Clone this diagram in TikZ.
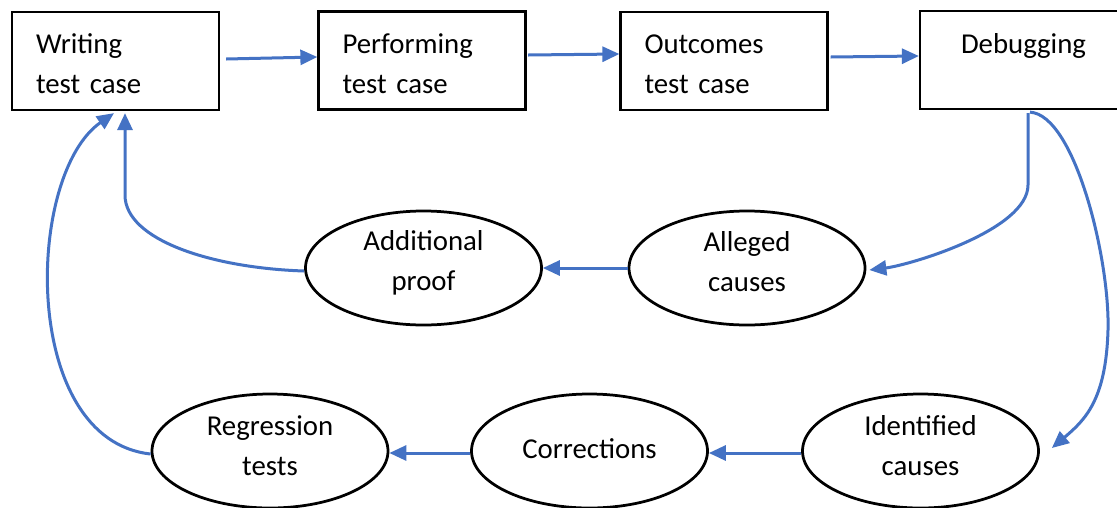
\documentclass[tikz,border=0pt]{standalone}
\usepackage{fontspec}
\setmainfont{Carlito}
\usetikzlibrary{arrows.meta,shapes.geometric}
\definecolor{flowblue}{HTML}{4472C4}
% invisible struts used to balance the lines vertically inside a shape
\newcommand{\topstrut}{\rule{0pt}{26pt}}
\newcommand{\lowstrut}[1]{\rule[-#1pt]{0pt}{#1pt}}
\tikzset{
  lbl/.style={font=\fontsize{28.8pt}{40pt}\selectfont, text=black},
  stage/.style={lbl, draw=black, line width=2.25pt, fill=white,
    minimum width=207pt, minimum height=98pt, inner sep=0pt,
    text width=159pt, align=left},
  stagec/.style={stage, align=center},
  cause/.style={lbl, ellipse, draw=black, line width=2.75pt, fill=white,
    minimum width=236pt, minimum height=114pt, inner sep=0pt, align=center},
  flow/.style={draw=flowblue, line width=3pt,
    -{Triangle[length=17pt,width=15pt]}}
}
\begin{document}
\begin{tikzpicture}[x=1pt,y=-1pt]
  \useasboundingbox (0,0) rectangle (1117,507);
  \clip (0,0) rectangle (1117,507);
  \fill[white] (0,0) rectangle (1117,507);

  % top row of process steps
  \node[stage]  (write) at (115.5,61)  {\topstrut Writing\\test case};
  \node[stage]  (perf)  at (422,60.5)  {\topstrut Performing\\test case};
  \node[stage]  (outc)  at (724,61)    {\topstrut Outcomes\\test case};
  \node[stagec] (debug) at (1023.5,60) {\topstrut Debugging\\\mbox{}};

  % causes and follow-up activities
  \node[cause] (addp)  at (423.5,268) {Additional\\proof\lowstrut{16}};
  \node[cause] (alleg) at (747,268)   {Alleged\\causes\lowstrut{13}};
  \node[cause] (regr)  at (270,451)   {Regression\\tests\lowstrut{11}};
  \node[cause] (corr)  at (589.5,451) {Corrections\lowstrut{4}};
  \node[cause] (ident) at (920.5,451) {Identified\\causes\lowstrut{12}};

  % main sequence
  \draw[flow] ([xshift=6pt,yshift=2pt]write.east) -- ([yshift=3.5pt]perf.west);
  \draw[flow] ([xshift=1.5pt,yshift=5.5pt]perf.east) -- ([yshift=7pt]outc.west);
  \draw[flow] ([xshift=2pt,yshift=4pt]outc.east) -- ([yshift=4pt]debug.west);

  % debugging branches
  \draw[flow] ([xshift=4.5pt,yshift=-3pt]debug.south) -- (1028,185)
    .. controls (1028,230) and (910,265) .. ([xshift=3pt,yshift=-2pt]alleg.east);
  \draw[flow] ([xshift=6.5pt,yshift=-2pt]debug.south)
    .. controls (1075,115) and (1110,260) .. (1108,330)
    .. controls (1106,400) and (1085,420) .. ([xshift=12pt,yshift=3pt]ident.east);

  % middle row back to the start
  \draw[flow] (alleg.west) -- (addp.east);
  \draw[flow] ([yshift=-3pt]addp.west)
    .. controls (212,268) and (125,240) .. (125,195)
    -- ([xshift=9.5pt,yshift=-2pt]write.south);

  % bottom row back to the start
  \draw[flow] ([yshift=-2pt]ident.west) -- ([yshift=-2pt]corr.east);
  \draw[flow] ([yshift=-2pt]corr.west) -- ([yshift=-2pt]regr.east);
  \draw[flow] ([yshift=-3pt]regr.west)
    .. controls (20,440) and (25,175) .. ([xshift=-1.5pt,yshift=-2pt]write.south);
\end{tikzpicture}
\end{document}
